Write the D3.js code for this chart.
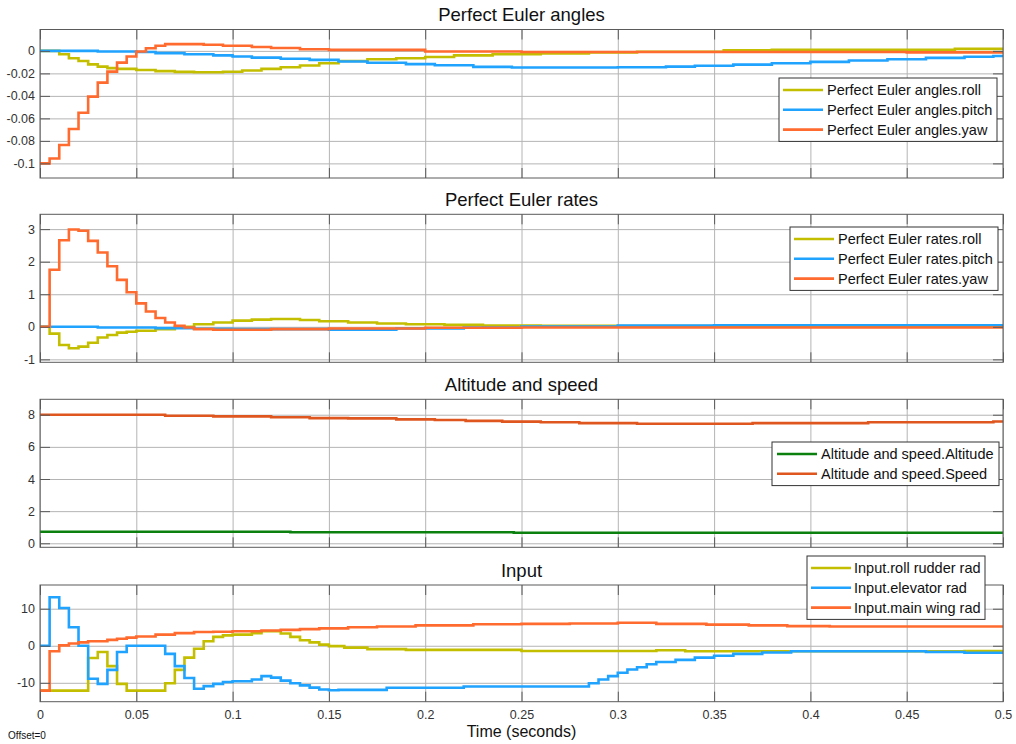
<!DOCTYPE html>
<html>
<head>
<meta charset="utf-8">
<script src="https://cdn.jsdelivr.net/npm/d3@7"></script>
<style>
  body { margin: 0; background: #fff; }
  svg { display: block; font-family: "Liberation Sans", Arial, sans-serif; }
</style>
</head>
<body>
<svg width="1016" height="744"></svg>
<script>
// time axis
const xTicks = [0, 0.05, 0.1, 0.15, 0.2, 0.25, 0.3, 0.35, 0.4, 0.45, 0.5]
const xTickLabels = ['0', '0.05', '0.1', '0.15', '0.2', '0.25', '0.3', '0.35', '0.4', '0.45', '0.5']
const tEnd = 0.5

// Perfect Euler angles  ([time, value] where the step changes)
const angleRoll = [[0, 0], [0.01, -0.003], [0.015, -0.0065], [0.02, -0.009], [0.025, -0.012], [0.03, -0.014],
  [0.035, -0.0153], [0.04, -0.016], [0.05, -0.017], [0.06, -0.018], [0.07, -0.0187], [0.08, -0.019],
  [0.095, -0.0185], [0.105, -0.0175], [0.115, -0.016], [0.125, -0.0145], [0.135, -0.013], [0.145, -0.011],
  [0.155, -0.009], [0.17, -0.0075], [0.185, -0.0065], [0.2, -0.0055], [0.215, -0.004], [0.235, -0.003],
  [0.26, -0.0022], [0.285, -0.0015], [0.31, -0.0008], [0.355, 0.0005], [0.38, 0.001], [0.475, 0.0018]]
const anglePitch = [[0, 0], [0.03, -0.0005], [0.05, -0.001], [0.06, -0.002], [0.075, -0.003], [0.09, -0.004],
  [0.1, -0.005], [0.11, -0.006], [0.125, -0.007], [0.14, -0.008], [0.155, -0.0095], [0.17, -0.0105],
  [0.19, -0.0118], [0.205, -0.0128], [0.225, -0.0142], [0.245, -0.0148], [0.3, -0.0145], [0.325, -0.014],
  [0.34, -0.0132], [0.36, -0.0122], [0.38, -0.011], [0.4, -0.0098], [0.42, -0.0086], [0.44, -0.0074],
  [0.46, -0.0062], [0.48, -0.0052], [0.495, -0.0045]]
const angleYaw = [[0, -0.1], [0.005, -0.0956], [0.01, -0.0837], [0.015, -0.0695], [0.02, -0.055], [0.025, -0.0407],
  [0.03, -0.0282], [0.035, -0.0184], [0.04, -0.0104], [0.045, -0.005], [0.05, -0.0006], [0.055, 0.0024],
  [0.06, 0.0045], [0.065, 0.006], [0.085, 0.0055], [0.095, 0.0045], [0.11, 0.0035], [0.12, 0.0025],
  [0.135, 0.0015], [0.15, 0.0009], [0.2, -0.0006], [0.25, -0.001], [0.45, -0.0013]]

// Perfect Euler rates
const rateRoll = [[0, 0], [0.005, -0.21], [0.01, -0.56], [0.015, -0.66], [0.02, -0.61], [0.025, -0.49], [0.03, -0.33],
  [0.035, -0.25], [0.04, -0.18], [0.045, -0.15], [0.05, -0.12], [0.06, -0.07], [0.07, 0], [0.08, 0.08],
  [0.09, 0.13], [0.1, 0.19], [0.11, 0.22], [0.12, 0.24], [0.135, 0.21], [0.145, 0.17], [0.16, 0.13],
  [0.175, 0.1], [0.19, 0.08], [0.21, 0.06], [0.23, 0.04], [0.26, 0.03], [0.3, 0.02]]
const ratePitch = [[0, 0], [0.03, -0.02], [0.06, -0.04], [0.08, -0.06], [0.1, -0.07], [0.15, -0.09], [0.185, -0.05],
  [0.22, -0.02], [0.25, 0.01], [0.3, 0.04], [0.35, 0.05]]
const rateYaw = [[0, 0], [0.005, 1.75], [0.01, 2.66], [0.015, 2.99], [0.02, 2.95], [0.025, 2.64], [0.03, 2.28],
  [0.035, 1.86], [0.04, 1.44], [0.045, 1.06], [0.05, 0.72], [0.055, 0.47], [0.06, 0.27], [0.065, 0.13],
  [0.07, 0.03], [0.075, -0.02], [0.08, -0.07], [0.09, -0.09], [0.12, -0.07], [0.15, -0.05], [0.2, -0.03],
  [0.25, -0.02]]

// Altitude and speed
const altitude = [[0, 0.72], [0.13, 0.69], [0.246, 0.66]]
const speed = [[0, 8.0], [0.065, 7.94], [0.09, 7.9], [0.12, 7.84], [0.14, 7.79], [0.16, 7.77], [0.185, 7.71],
  [0.205, 7.67], [0.221, 7.62], [0.24, 7.57], [0.26, 7.53], [0.28, 7.48], [0.31, 7.44], [0.37, 7.48],
  [0.43, 7.53], [0.495, 7.58]]

// Input
const rollRudder = [[0, -12.1], [0.025, -3.3], [0.03, -1.7], [0.035, -5.5], [0.04, -10.3], [0.045, -12.1],
  [0.065, -10.1], [0.07, -6.5], [0.075, -3.2], [0.08, -0.8], [0.085, 1.2], [0.09, 2.4], [0.095, 2.8],
  [0.1, 3.0], [0.11, 3.4], [0.115, 3.9], [0.125, 3.3], [0.13, 2.4], [0.135, 1.5], [0.14, 0.9], [0.145, 0.3],
  [0.15, -0.1], [0.158, -0.5], [0.17, -0.9], [0.19, -1.1], [0.25, -1.4], [0.32, -1.2], [0.335, -1.5],
  [0.48, -1.4]]
const elevator = [[0, 0], [0.005, 13.1], [0.01, 10.2], [0.015, 5.0], [0.02, 0], [0.025, -8.9], [0.03, -10.3],
  [0.035, -6.5], [0.04, -1.7], [0.045, 0], [0.065, -2.2], [0.07, -5.5], [0.075, -8.7], [0.08, -11.6],
  [0.085, -10.9], [0.09, -10.3], [0.095, -9.8], [0.1, -9.6], [0.11, -9.1], [0.115, -8.2], [0.12, -8.6],
  [0.125, -9.4], [0.13, -10.1], [0.135, -10.7], [0.14, -11.3], [0.145, -11.8], [0.15, -12.0], [0.155, -11.9],
  [0.18, -11.35], [0.22, -11.0], [0.285, -10.1], [0.29, -9.1], [0.295, -8.2], [0.3, -7.3], [0.305, -6.4],
  [0.31, -5.8], [0.315, -5.0], [0.32, -4.4], [0.33, -3.8], [0.34, -3.2], [0.35, -2.7], [0.36, -2.2],
  [0.375, -1.8], [0.39, -1.5], [0.46, -1.7], [0.48, -1.9]]
const mainWing = [[0, -12.1], [0.005, -1.5], [0.01, 0.1], [0.015, 0.6], [0.02, 0.9], [0.025, 1.2], [0.035, 1.6],
  [0.04, 1.9], [0.045, 2.2], [0.05, 2.5], [0.06, 3.0], [0.07, 3.4], [0.08, 3.7], [0.09, 3.8], [0.1, 3.9],
  [0.115, 4.1], [0.125, 4.3], [0.135, 4.5], [0.145, 4.7], [0.16, 5.0], [0.175, 5.2], [0.195, 5.5],
  [0.225, 5.8], [0.25, 5.9], [0.275, 6.0], [0.3, 6.2], [0.32, 5.9], [0.346, 5.7], [0.368, 5.5],
  [0.388, 5.3], [0.41, 5.2]]

// y ticks of each panel
const angleTicks = [-0.1, -0.08, -0.06, -0.04, -0.02, 0]
const rateTicks = [-1, 0, 1, 2, 3]
const altTicks = [0, 2, 4, 6, 8]
const inputTicks = [-10, 0, 10]

const c = {
  roll: '#c4be00',
  pitch: '#1fa3ff',
  yaw: '#ff6a2e',
  alt: '#0b800f',
  speed: '#e0561f'
}

const panels = [
  {
    title: 'Perfect Euler angles', top: 29.5, bottom: 178, yDomain: [-0.113, 0.019], ticks: angleTicks,
    legend: { x: 779, y: 78, w: 218, lineX: 4, textX: 48 },
    series: [
      { name: 'Perfect Euler angles.roll', data: angleRoll, color: c.roll },
      { name: 'Perfect Euler angles.pitch', data: anglePitch, color: c.pitch },
      { name: 'Perfect Euler angles.yaw', data: angleYaw, color: c.yaw }
    ]
  },
  {
    title: 'Perfect Euler rates', top: 214.3, bottom: 362.3, yDomain: [-1.09, 3.455], ticks: rateTicks,
    legend: { x: 790, y: 227, w: 208, lineX: 4, textX: 48 },
    series: [
      { name: 'Perfect Euler rates.roll', data: rateRoll, color: c.roll },
      { name: 'Perfect Euler rates.pitch', data: ratePitch, color: c.pitch },
      { name: 'Perfect Euler rates.yaw', data: rateYaw, color: c.yaw }
    ]
  },
  {
    title: 'Altitude and speed', top: 399.3, bottom: 547.3, yDomain: [-0.25, 8.96], ticks: altTicks,
    legend: { x: 772, y: 442, w: 227, lineX: 5, textX: 49 },
    series: [
      { name: 'Altitude and speed.Altitude', data: altitude, color: c.alt },
      { name: 'Altitude and speed.Speed', data: speed, color: c.speed }
    ]
  },
  {
    title: 'Input', top: 585, bottom: 701.7, yDomain: [-15.1, 16.4], ticks: inputTicks,
    legend: { x: 807, y: 556, w: 178, lineX: 4, textX: 47 },
    series: [
      { name: 'Input.roll rudder rad', data: rollRudder, color: c.roll },
      { name: 'Input.elevator rad', data: elevator, color: c.pitch },
      { name: 'Input.main wing rad', data: mainWing, color: c.yaw }
    ]
  }
]

const left = 40
const right = 1003
const svg = d3.select('svg')
const x = d3.scaleLinear().domain([0, tEnd]).range([left, right])

panels.forEach((p, i) => {
  const y = d3.scaleLinear().domain(p.yDomain).range([p.bottom, p.top])
  const g = svg.append('g')
  const last = i === panels.length - 1

  // grid
  g.append('g')
    .attr('class', 'grid')
    .attr('transform', `translate(${left},0)`)
    .call(d3.axisLeft(y).tickValues(p.ticks).tickSize(-(right - left)).tickFormat(''))
  g.append('g')
    .attr('class', 'grid')
    .attr('transform', `translate(0,${p.bottom})`)
    .call(d3.axisBottom(x).tickValues(xTicks).tickSize(-(p.bottom - p.top)).tickFormat(''))
  g.selectAll('.grid .domain').remove()
  g.selectAll('.grid line').attr('stroke', '#b4b4b4').attr('stroke-width', 1)

  // clip the lines to the axes box
  svg.append('clipPath').attr('id', 'clip' + i)
    .append('rect')
    .attr('x', left).attr('y', p.top)
    .attr('width', right - left).attr('height', p.bottom - p.top)

  const line = d3.line()
    .x((d) => x(d[0]))
    .y((d) => y(d[1]))
    .curve(d3.curveStepAfter)

  g.append('g')
    .attr('clip-path', `url(#clip${i})`)
    .selectAll('path')
    .data(p.series)
    .enter().append('path')
    .attr('fill', 'none')
    .attr('stroke', (d) => d.color)
    .attr('stroke-width', 2.6)
    .attr('stroke-linejoin', 'miter')
    .attr('d', (d) => line(d.data.concat([[tEnd, d.data[d.data.length - 1][1]]])))

  // axes with inward ticks on all sides
  g.append('g')
    .attr('class', 'axis')
    .attr('transform', `translate(${left},0)`)
    .call(d3.axisLeft(y).tickValues(p.ticks).tickSizeInner(-10).tickSizeOuter(0).tickPadding(5)
      .tickFormat((d) => String(d)))
  g.append('g')
    .attr('class', 'axis')
    .attr('transform', `translate(${right},0)`)
    .call(d3.axisRight(y).tickValues(p.ticks).tickSizeInner(-10).tickSizeOuter(0).tickFormat(''))
  g.append('g')
    .attr('class', 'axis')
    .attr('transform', `translate(0,${p.top})`)
    .call(d3.axisTop(x).tickValues(xTicks).tickSizeInner(-10).tickSizeOuter(0).tickFormat(''))
  g.append('g')
    .attr('class', 'axis')
    .attr('transform', `translate(0,${p.bottom})`)
    .call(d3.axisBottom(x).tickValues(xTicks).tickSizeInner(-10).tickSizeOuter(0).tickPadding(8)
      .tickFormat((d, k) => last ? xTickLabels[k] : ''))
  g.selectAll('.axis .domain').remove()
  g.selectAll('.axis line').attr('stroke', '#5a5a5a')
  g.selectAll('.axis text')
    .attr('fill', '#333')
    .style('font-size', '12.5px')
    .style('font-family', '"Liberation Sans", Arial, sans-serif')

  // box
  g.append('rect')
    .attr('x', left).attr('y', p.top)
    .attr('width', right - left).attr('height', p.bottom - p.top)
    .attr('fill', 'none')
    .attr('stroke', '#5a5a5a')
    .attr('stroke-width', 1)

  // title
  g.append('text')
    .attr('x', (left + right) / 2)
    .attr('y', p.top - 8.5)
    .attr('text-anchor', 'middle')
    .attr('fill', '#111')
    .style('font-size', '18.5px')
    .text(p.title)

  // legend
  const rowH = 19.8
  const lg = svg.append('g').attr('transform', `translate(${p.legend.x},${p.legend.y})`)
  lg.append('rect')
    .attr('width', p.legend.w)
    .attr('height', p.series.length * rowH + 4)
    .attr('fill', '#fff')
    .attr('stroke', '#333')
    .attr('stroke-width', 1)
  const rows = lg.selectAll('.row')
    .data(p.series)
    .enter().append('g')
    .attr('transform', (d, k) => `translate(0,${12 + k * rowH})`)
  rows.append('line')
    .attr('x1', p.legend.lineX).attr('x2', p.legend.lineX + 40)
    .attr('stroke', (d) => d.color)
    .attr('stroke-width', 2.6)
  rows.append('text')
    .attr('x', p.legend.textX)
    .attr('dy', '0.35em')
    .attr('fill', '#111')
    .style('font-size', '14.5px')
    .text((d) => d.name)
})

// x axis label
svg.append('text')
  .attr('x', (left + right) / 2)
  .attr('y', 737)
  .attr('text-anchor', 'middle')
  .attr('fill', '#111')
  .style('font-size', '16px')
  .text('Time (seconds)')

svg.append('text')
  .attr('x', 8)
  .attr('y', 739)
  .attr('fill', '#111')
  .style('font-size', '10px')
  .text('Offset=0')
</script>
</body>
</html>
